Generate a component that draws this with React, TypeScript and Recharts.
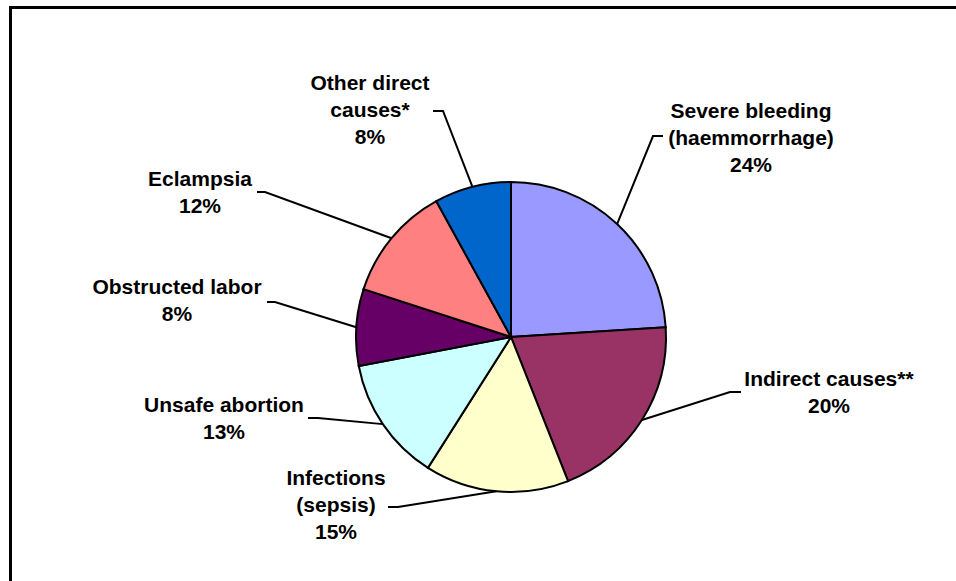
import React from "react";
import { PieChart, Pie, Cell } from "recharts";

const causes = [
  "Severe bleeding (haemmorrhage)",
  "Indirect causes**",
  "Infections (sepsis)",
  "Unsafe abortion",
  "Obstructed labor",
  "Eclampsia",
  "Other direct causes*",
];
const shares = [24, 20, 15, 13, 8, 12, 8];
const labelLines = [
  ["Severe bleeding", "(haemmorrhage)"],
  ["Indirect causes**"],
  ["Infections", "(sepsis)"],
  ["Unsafe abortion"],
  ["Obstructed labor"],
  ["Eclampsia"],
  ["Other direct", "causes*"],
];
const colors = ["#9999FF", "#993366", "#FFFFCC", "#CCFFFF", "#660066", "#FF8080", "#0066CC"];

// where each label sits (text centre, first baseline) and the bend of its leader line
const labelLayout = [
  { tx: 751, ty: 118, ex: 653, ey: 136, end: 663 },
  { tx: 829, ty: 386, ex: 730, ey: 392, end: 741 },
  { tx: 336, ty: 485, ex: 398, ey: 507, end: 388 },
  { tx: 224, ty: 412, ex: 318, ey: 418, end: 308 },
  { tx: 177, ty: 294, ex: 275, ey: 302, end: 267 },
  { tx: 200, ty: 186, ex: 265, ey: 192, end: 257 },
  { tx: 370, ty: 90, ex: 443, ey: 111, end: 433 },
];

const data = causes.map((name, i) => ({ name, value: shares[i] }));

const RAD = Math.PI / 180;

const renderLabel = (props: any) => {
  const { cx, cy, midAngle, outerRadius, percent, index } = props;
  const lay = labelLayout[index];
  const px = cx + outerRadius * Math.cos(-midAngle * RAD);
  const py = cy + outerRadius * Math.sin(-midAngle * RAD);
  const lines = [...labelLines[index], `${Math.round(percent * 100)}%`];
  return (
    <g key={`lbl-${index}`}>
      <polyline
        points={`${px},${py} ${lay.ex},${lay.ey} ${lay.end},${lay.ey}`}
        fill="none"
        stroke="#000"
        strokeWidth={2}
      />
      <text
        textAnchor="middle"
        fontFamily="'Liberation Sans', Arial, sans-serif"
        fontWeight="bold"
        fontSize={21}
        fill="#000"
      >
        {lines.map((l, j) => (
          <tspan key={j} x={lay.tx} y={lay.ty + j * 27}>
            {l}
          </tspan>
        ))}
      </text>
    </g>
  );
};

const App = () => {
  return (
    <div style={{ position: "absolute", left: 0, top: 0, width: 956, height: 581, background: "#fff" }}>
      <div
        style={{
          position: "absolute",
          left: 9,
          top: 6,
          right: 0,
          bottom: 0,
          borderTop: "3px solid #000",
          borderLeft: "3px solid #000",
        }}
      />
      <div style={{ position: "absolute", left: 0, top: 0 }}>
        <PieChart width={956} height={581} margin={{ top: 0, right: 0, bottom: 0, left: 0 }}>
          <Pie
            data={data}
            dataKey="value"
            nameKey="name"
            cx={511}
            cy={337}
            outerRadius={155}
            startAngle={90}
            endAngle={-270}
            stroke="#000"
            strokeWidth={2}
            label={renderLabel}
            labelLine={false}
            isAnimationActive={false}
          >
            {data.map((d, i) => (
              <Cell key={d.name} fill={colors[i]} />
            ))}
          </Pie>
        </PieChart>
      </div>
    </div>
  );
};

export default App;
